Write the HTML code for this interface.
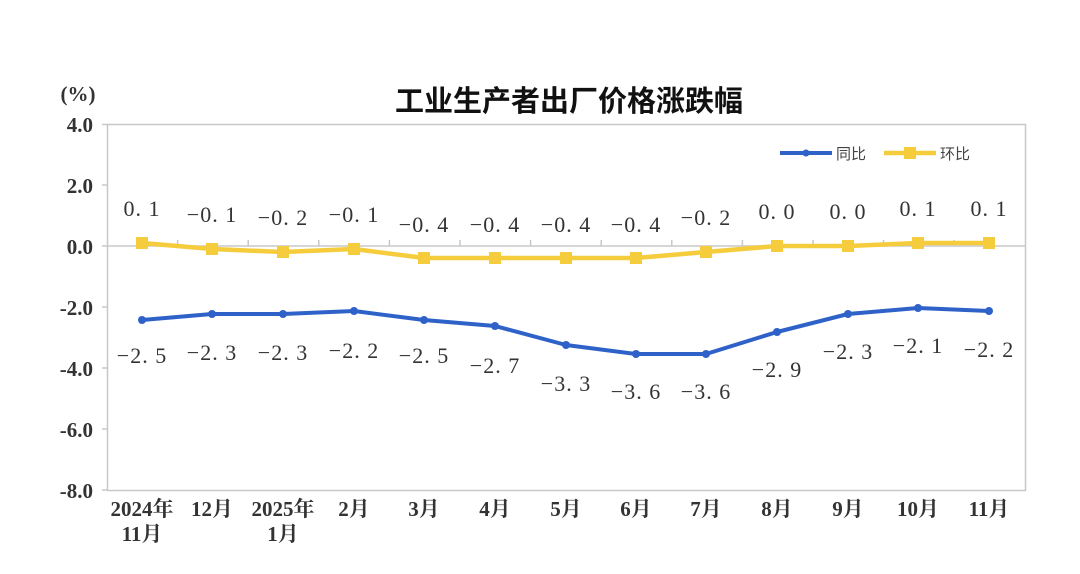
<!DOCTYPE html>
<html><head><meta charset="utf-8"><style>
html,body{margin:0;padding:0;background:#fff;}
svg{display:block;}
.ax{font-family:"Liberation Serif","Noto Serif CJK SC",serif;font-weight:bold;font-size:21px;fill:#333;}
.lb{font-family:"Liberation Serif","Noto Serif CJK SC",serif;font-size:22px;fill:#333;letter-spacing:1px;}
.lg{font-family:"Liberation Sans","Noto Sans CJK SC",sans-serif;font-size:15px;fill:#444;}
</style></head><body>
<svg width="1080" height="574" viewBox="0 0 1080 574">
<text x="569" y="111" text-anchor="middle" font-family="'Liberation Sans','Noto Sans CJK SC',sans-serif" font-weight="bold" font-size="29" fill="#111">工业生产者出厂价格涨跌幅</text>
<text class="ax" x="78" y="101" text-anchor="middle" font-size="19">(%)</text>
<rect x="107.5" y="124.5" width="918" height="366" fill="none" stroke="#c8c8c8" stroke-width="1.5"/>
<line x1="107" y1="246" x2="1025" y2="246" stroke="#c8c8c8" stroke-width="1.5"/>
<g stroke="#c8c8c8" stroke-width="1.5">
<line x1="102" y1="124.5" x2="107" y2="124.5"/><line x1="102" y1="185" x2="107" y2="185"/><line x1="102" y1="246" x2="107" y2="246"/><line x1="102" y1="307" x2="107" y2="307"/><line x1="102" y1="368" x2="107" y2="368"/><line x1="102" y1="429" x2="107" y2="429"/><line x1="102" y1="490" x2="107" y2="490"/>
<line x1="177.6" y1="240" x2="177.6" y2="246"/><line x1="248.2" y1="240" x2="248.2" y2="246"/><line x1="318.8" y1="240" x2="318.8" y2="246"/><line x1="389.4" y1="240" x2="389.4" y2="246"/><line x1="460" y1="240" x2="460" y2="246"/><line x1="530.6" y1="240" x2="530.6" y2="246"/><line x1="601.2" y1="240" x2="601.2" y2="246"/><line x1="671.8" y1="240" x2="671.8" y2="246"/><line x1="742.4" y1="240" x2="742.4" y2="246"/><line x1="813" y1="240" x2="813" y2="246"/><line x1="883.6" y1="240" x2="883.6" y2="246"/><line x1="954.2" y1="240" x2="954.2" y2="246"/>
</g>
<g class="ax" text-anchor="end">
<text x="93" y="132">4.0</text><text x="93" y="193">2.0</text><text x="93" y="254">0.0</text><text x="93" y="315">-2.0</text><text x="93" y="376">-4.0</text><text x="93" y="437">-6.0</text><text x="93" y="498">-8.0</text>
</g>
<g class="ax" text-anchor="middle">
<text x="142" y="516">2024年</text><text x="142" y="541">11月</text>
<text x="212" y="516">12月</text>
<text x="283" y="516">2025年</text><text x="283" y="541">1月</text>
<text x="354" y="516">2月</text><text x="424" y="516">3月</text><text x="495" y="516">4月</text><text x="566" y="516">5月</text><text x="636" y="516">6月</text><text x="706" y="516">7月</text><text x="777" y="516">8月</text><text x="848" y="516">9月</text><text x="918" y="516">10月</text><text x="989" y="516">11月</text>
</g>
<polyline fill="none" stroke="#f5cc3c" stroke-width="4.5" stroke-linejoin="round" points="142,243 212,249 283,252 354,249 424,258 495,258 566,258 636,258 706,252 777,246 848,246 918,243 989,243"/>
<g fill="#f5cc3c">
<rect x="136" y="237" width="12" height="12"/><rect x="206" y="243" width="12" height="12"/><rect x="277" y="246" width="12" height="12"/><rect x="348" y="243" width="12" height="12"/><rect x="418" y="252" width="12" height="12"/><rect x="489" y="252" width="12" height="12"/><rect x="560" y="252" width="12" height="12"/><rect x="630" y="252" width="12" height="12"/><rect x="700" y="246" width="12" height="12"/><rect x="771" y="240" width="12" height="12"/><rect x="842" y="240" width="12" height="12"/><rect x="912" y="237" width="12" height="12"/><rect x="983" y="237" width="12" height="12"/>
</g>
<polyline fill="none" stroke="#2f62c8" stroke-width="4" stroke-linejoin="round" points="142,320 212,314 283,314 354,311 424,320 495,326 566,345 636,354 706,354 777,332 848,314 918,308 989,311"/>
<g fill="#2f62c8">
<circle cx="142" cy="320" r="4"/><circle cx="212" cy="314" r="4"/><circle cx="283" cy="314" r="4"/><circle cx="354" cy="311" r="4"/><circle cx="424" cy="320" r="4"/><circle cx="495" cy="326" r="4"/><circle cx="566" cy="345" r="4"/><circle cx="636" cy="354" r="4"/><circle cx="706" cy="354" r="4"/><circle cx="777" cy="332" r="4"/><circle cx="848" cy="314" r="4"/><circle cx="918" cy="308" r="4"/><circle cx="989" cy="311" r="4"/>
</g>
<g class="lb" text-anchor="middle">
<text x="142" y="216">0. 1</text><text x="212" y="222">−0. 1</text><text x="283" y="225">−0. 2</text><text x="354" y="222">−0. 1</text><text x="424" y="232">−0. 4</text><text x="495" y="232">−0. 4</text><text x="566" y="232">−0. 4</text><text x="636" y="232">−0. 4</text><text x="706" y="225">−0. 2</text><text x="777" y="219">0. 0</text><text x="848" y="219">0. 0</text><text x="918" y="216">0. 1</text><text x="989" y="216">0. 1</text>
<text x="142" y="363">−2. 5</text><text x="212" y="360">−2. 3</text><text x="283" y="360">−2. 3</text><text x="354" y="358">−2. 2</text><text x="424" y="363">−2. 5</text><text x="495" y="373">−2. 7</text><text x="566" y="391">−3. 3</text><text x="636" y="399">−3. 6</text><text x="706" y="399">−3. 6</text><text x="777" y="377">−2. 9</text><text x="848" y="359">−2. 3</text><text x="918" y="353">−2. 1</text><text x="989" y="357">−2. 2</text>
</g>
<line x1="780" y1="153" x2="832" y2="153" stroke="#2f62c8" stroke-width="4"/><circle cx="806" cy="153" r="3.5" fill="#2f62c8"/>
<text class="lg" x="836" y="159">同比</text>
<line x1="884" y1="153" x2="936" y2="153" stroke="#f5cc3c" stroke-width="4.5"/><rect x="904" y="147" width="12" height="12" fill="#f5cc3c"/>
<text class="lg" x="940" y="159">环比</text>
</svg>
</body></html>
